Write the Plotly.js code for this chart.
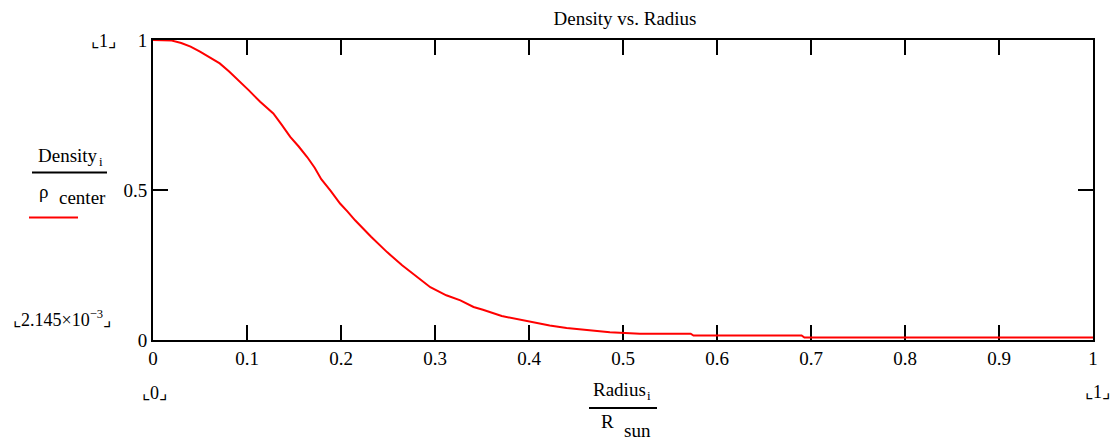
<!DOCTYPE html>
<html>
<head>
<meta charset="utf-8">
<script src="https://cdn.plot.ly/plotly-3.0.1.min.js"></script>
<style>
  html, body { margin: 0; padding: 0; background: #fff; }
  #chart { width: 1112px; height: 441px; }
</style>
</head>
<body>
<div id="chart"></div>
<script>
// Normalized radius (Radius_i / R_sun)
const radius = [0, 0.01, 0.02, 0.03, 0.04, 0.05, 0.06, 0.071, 0.081, 0.091, 0.102, 0.114, 0.128, 0.137, 0.146, 0.155, 0.164, 0.172, 0.179, 0.189, 0.199, 0.207, 0.215, 0.232, 0.249, 0.265, 0.281, 0.295, 0.312, 0.327, 0.341, 0.351, 0.371, 0.385, 0.398, 0.41, 0.422, 0.44, 0.461, 0.486, 0.518, 0.572, 0.575, 0.69, 0.693, 1.0];
// Normalized density (Density_i / rho_center)
const density = [1, 1, 0.998, 0.99, 0.978, 0.961, 0.943, 0.922, 0.895, 0.866, 0.832, 0.794, 0.755, 0.717, 0.677, 0.645, 0.61, 0.574, 0.536, 0.497, 0.455, 0.428, 0.399, 0.344, 0.293, 0.249, 0.21, 0.176, 0.149, 0.132, 0.11, 0.101, 0.080, 0.071, 0.063, 0.055, 0.048, 0.040, 0.034, 0.026, 0.021, 0.021, 0.015, 0.015, 0.008, 0.008];

const xTickVals = [0, 0.1, 0.2, 0.3, 0.4, 0.5, 0.6, 0.7, 0.8, 0.9, 1];
const xTickText = ["0", "0.1", "0.2", "0.3", "0.4", "0.5", "0.6", "0.7", "0.8", "0.9", "1"];
const yTickVals = [0, 0.5, 1];
const yTickText = ["0", "0.5", "1"];

const chartTitle = "Density vs. Radius";
const yLimitTop = "⌞1⌟";
const yLimitBottom = "⌞2.145×10<sup>−3</sup>⌟";
const xLimitLeft = "⌞0⌟";
const xLimitRight = "⌞1⌟";

const FONT = "Liberation Serif, DejaVu Serif";

const trace = {
  x: radius,
  y: density,
  type: "scatter",
  mode: "lines",
  line: { color: "#ff0000", width: 2 },
  hoverinfo: "skip",
  showlegend: false
};

const axisCommon = {
  showline: true,
  linecolor: "#000",
  linewidth: 2,
  mirror: "ticks",
  ticks: "inside",
  ticklen: 15,
  tickwidth: 2,
  tickcolor: "#000",
  showgrid: false,
  zeroline: false,
  layer: "below traces",
  tickfont: { family: FONT, size: 19, color: "#000" },
  fixedrange: true
};

const W = 1112, H = 441, L = 153, R = 19, T = 40, B = 101;
const pw = W - L - R, ph = H - T - B;
function px(x) { return (x - L) / pw; }
function py(y) { return (H - B - y) / ph; }

const ann = (text, x, y, size, opts) => Object.assign({
  text: text, xref: "paper", yref: "paper", x: px(x), y: py(y),
  showarrow: false, xanchor: "center", yanchor: "middle",
  font: { family: FONT, size: size || 18, color: "#000" }
}, opts || {});

const layout = {
  width: W, height: H,
  font: { family: FONT, size: 18, color: "#000" },
  margin: { l: L, r: R, t: T, b: B, pad: 0 },
  paper_bgcolor: "#fff",
  plot_bgcolor: "#fff",
  title: {
    text: chartTitle,
    font: { family: FONT, size: 19, color: "#000" },
    xref: "paper", x: px(625), xanchor: "center",
    yref: "container", y: 1 - 18 / H, yanchor: "middle"
  },
  xaxis: Object.assign({}, axisCommon, {
    range: [0, 1], tickvals: xTickVals, ticktext: xTickText
  }),
  yaxis: Object.assign({}, axisCommon, {
    range: [0, 1], tickvals: yTickVals, ticktext: yTickText
  }),
  annotations: [
    ann(yLimitTop, 103, 41, 18),
    ann(yLimitBottom, 62, 318, 18),
    ann(xLimitLeft, 154, 393, 18),
    ann(xLimitRight, 1097, 392, 18),
    // y-axis fraction label
    ann("Density", 68, 155, 19),
    ann("i", 101, 161, 13),
    ann("ρ", 43, 191, 19),
    ann("center", 82, 197, 19),
    // x-axis fraction label
    ann("Radius", 619, 389, 19),
    ann("i", 649, 395, 13),
    ann("R", 607, 421, 19),
    ann("sun", 637, 431, 19)
  ],
  shapes: [
    { type: "line", xref: "paper", yref: "paper", x0: px(32), x1: px(107), y0: py(172.5), y1: py(172.5), line: { color: "#000", width: 2 } },
    { type: "line", xref: "paper", yref: "paper", x0: px(29), x1: px(78), y0: py(217.5), y1: py(217.5), line: { color: "#ff0000", width: 2 } },
    { type: "line", xref: "paper", yref: "paper", x0: px(589), x1: px(657), y0: py(408), y1: py(408), line: { color: "#000", width: 2 } }
  ]
};

Plotly.newPlot("chart", [trace], layout, { displayModeBar: false, staticPlot: true });
</script>
</body>
</html>
